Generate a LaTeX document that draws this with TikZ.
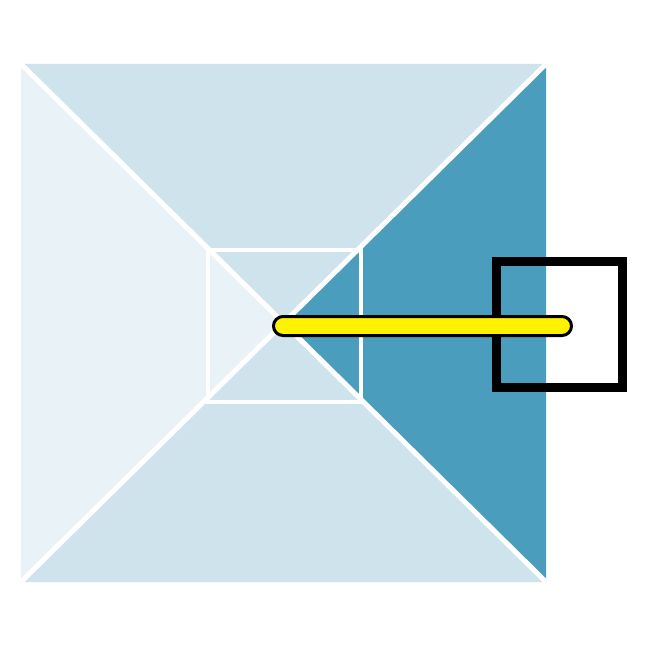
\documentclass[tikz,border=0pt]{standalone}
\definecolor{palecyan}{RGB}{233,242,246}
\definecolor{lightcyan}{RGB}{206,227,236}
\definecolor{deepcyan}{RGB}{74,157,189}
\begin{document}
\begin{tikzpicture}[x=1pt,y=-1pt]
                    \useasboundingbox (0,0) rectangle (650,650);
                    \coordinate (A) at (21,64);
                    \coordinate (B) at (546,64);
                    \coordinate (C) at (546,582);
                    \coordinate (D) at (21,582);
                    \coordinate (M) at (284,324);
                    % four faces
                    \fill[lightcyan] (A) -- (B) -- (M) -- cycle;
                    \fill[deepcyan] (B) -- (C) -- (M) -- cycle;
                    \fill[lightcyan] (C) -- (D) -- (M) -- cycle;
                    \fill[palecyan] (D) -- (A) -- (M) -- cycle;
                    \draw[white,line width=5pt] (A) -- (C);
                    \draw[white,line width=5pt] (B) -- (D);
                    \draw[white,line width=3.5pt] (208,250) rectangle (361,402);
                    % frame and bar
                    \draw[black,line width=9pt] (496.5,261.5) rectangle (622.5,387.5);
                    \filldraw[fill=yellow,draw=black,line width=3pt,rounded corners=9.5pt] (273.5,316.5) rectangle (571.5,335.5);
                \end{tikzpicture}
\end{document}
